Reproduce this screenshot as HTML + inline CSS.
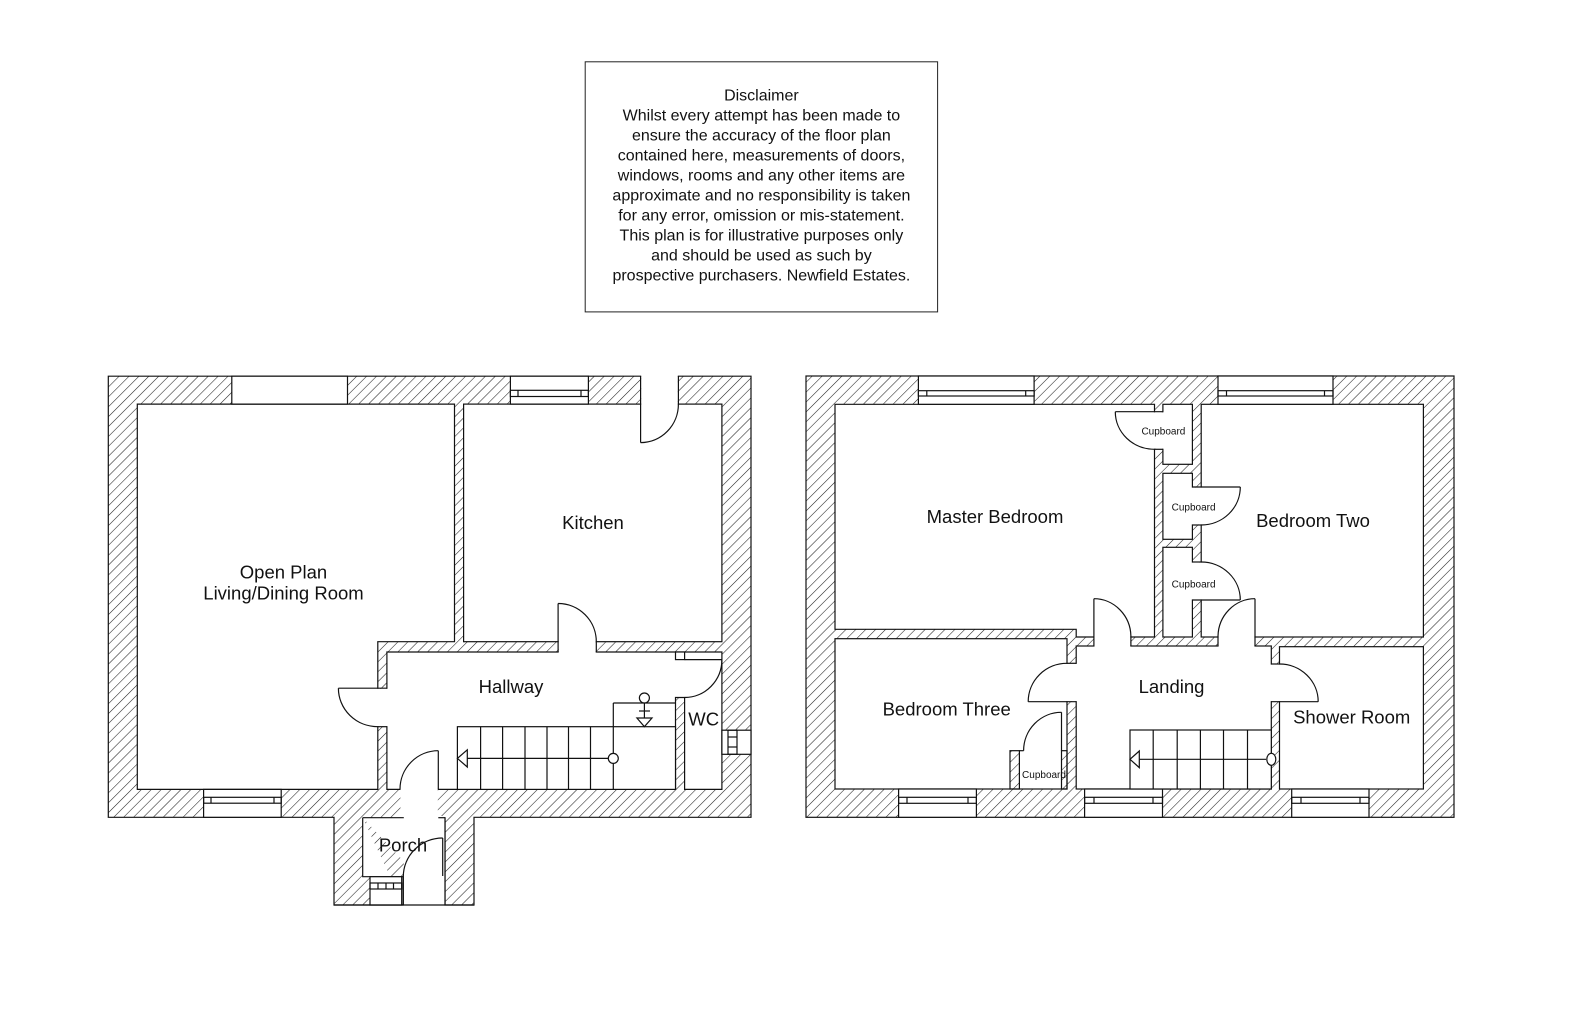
<!DOCTYPE html>
<html><head><meta charset="utf-8"><style>
html,body{margin:0;padding:0;background:#fff;}
svg{display:block;}
text{font-family:"Liberation Sans",Arial,sans-serif;fill:#111;}
</style></head><body>
<svg width="1586" height="1020" viewBox="0 0 1586 1020" xmlns="http://www.w3.org/2000/svg">
<defs>
<pattern id="h" patternUnits="userSpaceOnUse" width="7" height="7" patternTransform="rotate(45)">
<line x1="0" y1="0" x2="0" y2="7" stroke="#222" stroke-width="1.1"/>
</pattern>
</defs>
<rect width="1586" height="1020" fill="#fff"/>

<!-- Disclaimer -->
<rect x="585.2" y="61.8" width="352.4" height="250.1" fill="#fff" stroke="#222" stroke-width="1"/>
<g font-size="16" text-anchor="middle" dominant-baseline="central">
<text x="761.4" y="96.2">Disclaimer</text>
<text x="761.4" y="116.2">Whilst every attempt has been made to</text>
<text x="761.4" y="136.2">ensure the accuracy of the floor plan</text>
<text x="761.4" y="156.2">contained here, measurements of doors,</text>
<text x="761.4" y="176.2">windows, rooms and any other items are</text>
<text x="761.4" y="196.2">approximate and no responsibility is taken</text>
<text x="761.4" y="216.2">for any error, omission or mis-statement.</text>
<text x="761.4" y="236.2">This plan is for illustrative purposes only</text>
<text x="761.4" y="256.2">and should be used as such by</text>
<text x="761.4" y="276.2">prospective purchasers. Newfield Estates.</text>
</g>

<g stroke="#111" stroke-width="1.2" fill="none">
<!-- ================= GROUND FLOOR ================= -->
<path d="M108.3,376.2 H751 V817.3 H474 V905 H334 V817.3 H108.3 Z" fill="url(#h)"/>
<path d="M137.3,404.1 H454.5 V641.7 H377.8 V789.4 H137.3 Z" fill="#fff"/>
<rect x="463.6" y="404.1" width="258.3" height="237.6" fill="#fff"/>
<path d="M386.9,652 H721.9 V789.4 H684.6 V697.5 H675.5 V789.4 H386.9 Z" fill="#fff"/>

<rect x="231.8" y="376.2" width="115.7" height="27.9" fill="#fff"/>
<rect x="510.4" y="376.2" width="78" height="27.9" fill="#fff"/>
<rect x="510.4" y="390.3" width="78" height="6.2"/>
<line x1="518" y1="390.3" x2="518" y2="396.5"/><line x1="581" y1="390.3" x2="581" y2="396.5"/>
<rect x="203.6" y="789.4" width="77.6" height="27.9" fill="#fff"/>
<rect x="203.6" y="797.3" width="77.6" height="5.9"/>
<line x1="211" y1="797.3" x2="211" y2="803.2"/><line x1="274" y1="797.3" x2="274" y2="803.2"/>
<rect x="721.9" y="730.2" width="29.1" height="24.1" fill="#fff"/>
<rect x="728" y="730.2" width="9" height="24.1"/>
<line x1="728" y1="737" x2="737" y2="737"/><line x1="728" y1="747" x2="737" y2="747"/>

<rect x="641.2" y="375" width="36.6" height="30.3" fill="#fff" stroke="none"/>
<line x1="640.6" y1="376.2" x2="640.6" y2="442.6"/>
<line x1="678.4" y1="376.2" x2="678.4" y2="404.1"/>
<path d="M640.6,442.6 A37.8,38.5 0 0 0 678.4,404.1"/>

<rect x="376.6" y="688.8" width="11.5" height="37.3" fill="#fff" stroke="none"/>
<line x1="338.4" y1="688.2" x2="386.9" y2="688.2"/>
<line x1="377.8" y1="726.7" x2="386.9" y2="726.7"/>
<path d="M338.4,688.2 A39.4,38.5 0 0 0 377.8,726.7"/>

<rect x="558.7" y="640.5" width="37" height="12.7" fill="#fff" stroke="none"/>
<line x1="558.1" y1="603.5" x2="558.1" y2="652"/>
<line x1="596.3" y1="641.7" x2="596.3" y2="652"/>
<path d="M558.1,603.5 A38.2,38.2 0 0 1 596.3,641.7"/>

<rect x="675.5" y="652" width="9.1" height="7.6" fill="#fff"/>
<line x1="684.6" y1="659.6" x2="721.9" y2="659.6"/>
<path d="M721.9,659.6 A37.3,37.9 0 0 1 684.6,697.5"/>

<rect x="457.4" y="726.7" width="218.1" height="62.7" fill="#fff"/>
<line x1="480.6" y1="726.7" x2="480.6" y2="789.4"/>
<line x1="502.6" y1="726.7" x2="502.6" y2="789.4"/>
<line x1="525" y1="726.7" x2="525" y2="789.4"/>
<line x1="547" y1="726.7" x2="547" y2="789.4"/>
<line x1="568.5" y1="726.7" x2="568.5" y2="789.4"/>
<line x1="590.5" y1="726.7" x2="590.5" y2="789.4"/>
<line x1="613.3" y1="703" x2="613.3" y2="789.4"/>
<line x1="613.3" y1="703" x2="675.5" y2="703"/>
<line x1="467.3" y1="758.4" x2="608.3" y2="758.4"/>
<path d="M467.3,749.8 L457.4,758.4 L467.3,767 Z" fill="#fff"/>
<circle cx="613.3" cy="758.4" r="5" fill="#fff"/>
<circle cx="644.4" cy="698" r="5" fill="#fff"/>
<line x1="644.4" y1="703" x2="644.4" y2="718"/>
<line x1="639" y1="711" x2="650" y2="711"/>
<path d="M636.9,718 H652 L644.4,726.7 Z" fill="#fff"/>

<rect x="400.5" y="788.3" width="37.3" height="30.5" fill="#fff" stroke="none"/>
<path d="M362.7,817.7 H445 V905 M403.3,905 V876.7 H362.7 V817.7" fill="#fff"/>
<rect x="403.8" y="816" width="40.6" height="90" fill="#fff" stroke="none"/>
<line x1="445" y1="817.7" x2="445" y2="905"/>
<line x1="438.3" y1="817.7" x2="445" y2="817.7"/>
<line x1="403.3" y1="876.7" x2="403.3" y2="905"/>
<line x1="438.3" y1="750.7" x2="438.3" y2="789.3"/>
<path d="M438.3,750.7 A38.3,38.6 0 0 0 400,789.3"/>
<line x1="442.7" y1="838" x2="442.7" y2="876"/>
<path d="M442.7,838 A39.4,38.7 0 0 0 403.3,876.7"/>
<rect x="370" y="876.7" width="31.7" height="28.3" fill="#fff"/>
<rect x="370" y="883" width="31.7" height="6"/>
<line x1="378" y1="883" x2="378" y2="889"/><line x1="386" y1="883" x2="386" y2="889"/><line x1="393.5" y1="883" x2="393.5" y2="889"/>
<line x1="334" y1="905" x2="474" y2="905"/>

<!-- ================= FIRST FLOOR ================= -->
<rect x="806" y="376" width="648" height="441.3" fill="url(#h)"/>
<path d="M835,404.3 H1154.5 V637 H1076.2 V629.3 H835 Z" fill="#fff"/>
<rect x="835" y="638.7" width="232" height="150.3" fill="#fff"/>
<rect x="1076.2" y="646" width="195.1" height="143" fill="#fff"/>
<rect x="1201.2" y="404.3" width="222.2" height="232.7" fill="#fff"/>
<rect x="1279.5" y="646.7" width="143.9" height="142.3" fill="#fff"/>
<rect x="1162.9" y="404.3" width="29.5" height="60" fill="#fff"/>
<rect x="1162.9" y="473.3" width="29.5" height="66" fill="#fff"/>
<rect x="1162.9" y="547.3" width="29.5" height="89.7" fill="#fff"/>

<rect x="918.4" y="376" width="115.7" height="28.3" fill="#fff"/>
<rect x="918.4" y="390.7" width="115.7" height="5.3"/>
<line x1="926.8" y1="390.7" x2="926.8" y2="396"/><line x1="1025.7" y1="390.7" x2="1025.7" y2="396"/>
<rect x="1218" y="376" width="115" height="28.3" fill="#fff"/>
<rect x="1218" y="390.7" width="115" height="5.3"/>
<line x1="1226.5" y1="390.7" x2="1226.5" y2="396"/><line x1="1324.5" y1="390.7" x2="1324.5" y2="396"/>
<rect x="898.6" y="789" width="77.8" height="28.3" fill="#fff"/>
<rect x="898.6" y="797.3" width="77.8" height="6"/>
<line x1="907" y1="797.3" x2="907" y2="803.3"/><line x1="968" y1="797.3" x2="968" y2="803.3"/>
<rect x="1084.6" y="789" width="77.9" height="28.3" fill="#fff"/>
<rect x="1084.6" y="797.3" width="77.9" height="6"/>
<line x1="1094" y1="797.3" x2="1094" y2="803.3"/><line x1="1153" y1="797.3" x2="1153" y2="803.3"/>
<rect x="1291.7" y="789" width="77.3" height="28.3" fill="#fff"/>
<rect x="1291.7" y="797.3" width="77.3" height="6"/>
<line x1="1301" y1="797.3" x2="1301" y2="803.3"/><line x1="1360" y1="797.3" x2="1360" y2="803.3"/>

<rect x="1153.3" y="412.3" width="10.8" height="36.4" fill="#fff" stroke="none"/>
<line x1="1115.3" y1="411.7" x2="1162.9" y2="411.7"/>
<line x1="1154.5" y1="449.3" x2="1162.9" y2="449.3"/>
<path d="M1115.3,411.7 A39.2,37.6 0 0 0 1154.5,449.3"/>
<rect x="1191.2" y="487.6" width="11.2" height="36.8" fill="#fff" stroke="none"/>
<line x1="1192.4" y1="487" x2="1240.3" y2="487"/>
<line x1="1192.4" y1="525" x2="1201.2" y2="525"/>
<path d="M1240.3,487 A39.1,38 0 0 1 1201.2,525"/>
<rect x="1191.2" y="562.6" width="11.2" height="36.8" fill="#fff" stroke="none"/>
<line x1="1192.4" y1="600" x2="1240.3" y2="600"/>
<line x1="1192.4" y1="562" x2="1201.2" y2="562"/>
<path d="M1201.2,562 A39.1,38 0 0 1 1240.3,600"/>

<rect x="1094.5" y="636" width="35.8" height="11" fill="#fff" stroke="none"/>
<line x1="1093.9" y1="598.7" x2="1093.9" y2="646"/>
<line x1="1130.9" y1="637" x2="1130.9" y2="646"/>
<path d="M1093.9,598.7 A37,38.3 0 0 1 1130.9,637"/>
<rect x="1218.6" y="636" width="35.8" height="11" fill="#fff" stroke="none"/>
<line x1="1255" y1="598.7" x2="1255" y2="646"/>
<line x1="1218" y1="637" x2="1218" y2="646"/>
<path d="M1255,598.7 A37,38.3 0 0 0 1218,637"/>
<rect x="1065.8" y="663.9" width="11.6" height="37.2" fill="#fff" stroke="none"/>
<line x1="1028.2" y1="701.7" x2="1076.2" y2="701.7"/>
<line x1="1067" y1="663.3" x2="1076.2" y2="663.3"/>
<path d="M1028.2,701.7 A38.8,38.4 0 0 1 1067,663.3"/>
<rect x="1270.1" y="664.6" width="10.6" height="36.5" fill="#fff" stroke="none"/>
<line x1="1271.3" y1="701.7" x2="1318.2" y2="701.7"/>
<line x1="1271.3" y1="664" x2="1279.5" y2="664"/>
<path d="M1279.5,664 A38.7,37.7 0 0 1 1318.2,701.7"/>

<rect x="1010" y="750.7" width="9.4" height="38.3" fill="url(#h)"/>
<rect x="1061.5" y="750.7" width="5.5" height="38.3" fill="url(#h)"/>
<line x1="1019.4" y1="750.7" x2="1023.6" y2="750.7"/>
<line x1="1061.5" y1="712.3" x2="1061.5" y2="750.7"/>
<path d="M1061.5,712.3 A37.9,38.4 0 0 0 1023.6,750.7"/>

<rect x="1130" y="730" width="141.3" height="59" fill="#fff"/>
<line x1="1153.2" y1="730" x2="1153.2" y2="789"/>
<line x1="1177.2" y1="730" x2="1177.2" y2="789"/>
<line x1="1200.4" y1="730" x2="1200.4" y2="789"/>
<line x1="1223.5" y1="730" x2="1223.5" y2="789"/>
<line x1="1247.5" y1="730" x2="1247.5" y2="789"/>
<line x1="1139.3" y1="759.3" x2="1266" y2="759.3"/>
<path d="M1139.3,751 L1130,759.3 L1139.3,767.6 Z" fill="#fff"/>
<ellipse cx="1271.3" cy="759.3" rx="4.5" ry="6" fill="#fff"/>
</g>

<g font-size="18.5" text-anchor="middle" dominant-baseline="central">
<text x="283.5" y="572">Open Plan</text>
<text x="283.5" y="593">Living/Dining Room</text>
<text x="593" y="522.5">Kitchen</text>
<text x="511" y="686.5">Hallway</text>
<text x="703.7" y="719">WC</text>
<text x="403" y="845">Porch</text>
<text x="995" y="516.4">Master Bedroom</text>
<text x="1313" y="520.4">Bedroom Two</text>
<text x="1171.5" y="686.5">Landing</text>
<text x="946.7" y="708.8">Bedroom Three</text>
<text x="1351.7" y="716.9">Shower Room</text>
</g>
<g font-size="10" text-anchor="middle" dominant-baseline="central">
<text x="1163.4" y="432">Cupboard</text>
<text x="1193.6" y="508">Cupboard</text>
<text x="1193.6" y="585">Cupboard</text>
<text x="1044" y="775.6">Cupboard</text>
</g>
</svg>
</body></html>
